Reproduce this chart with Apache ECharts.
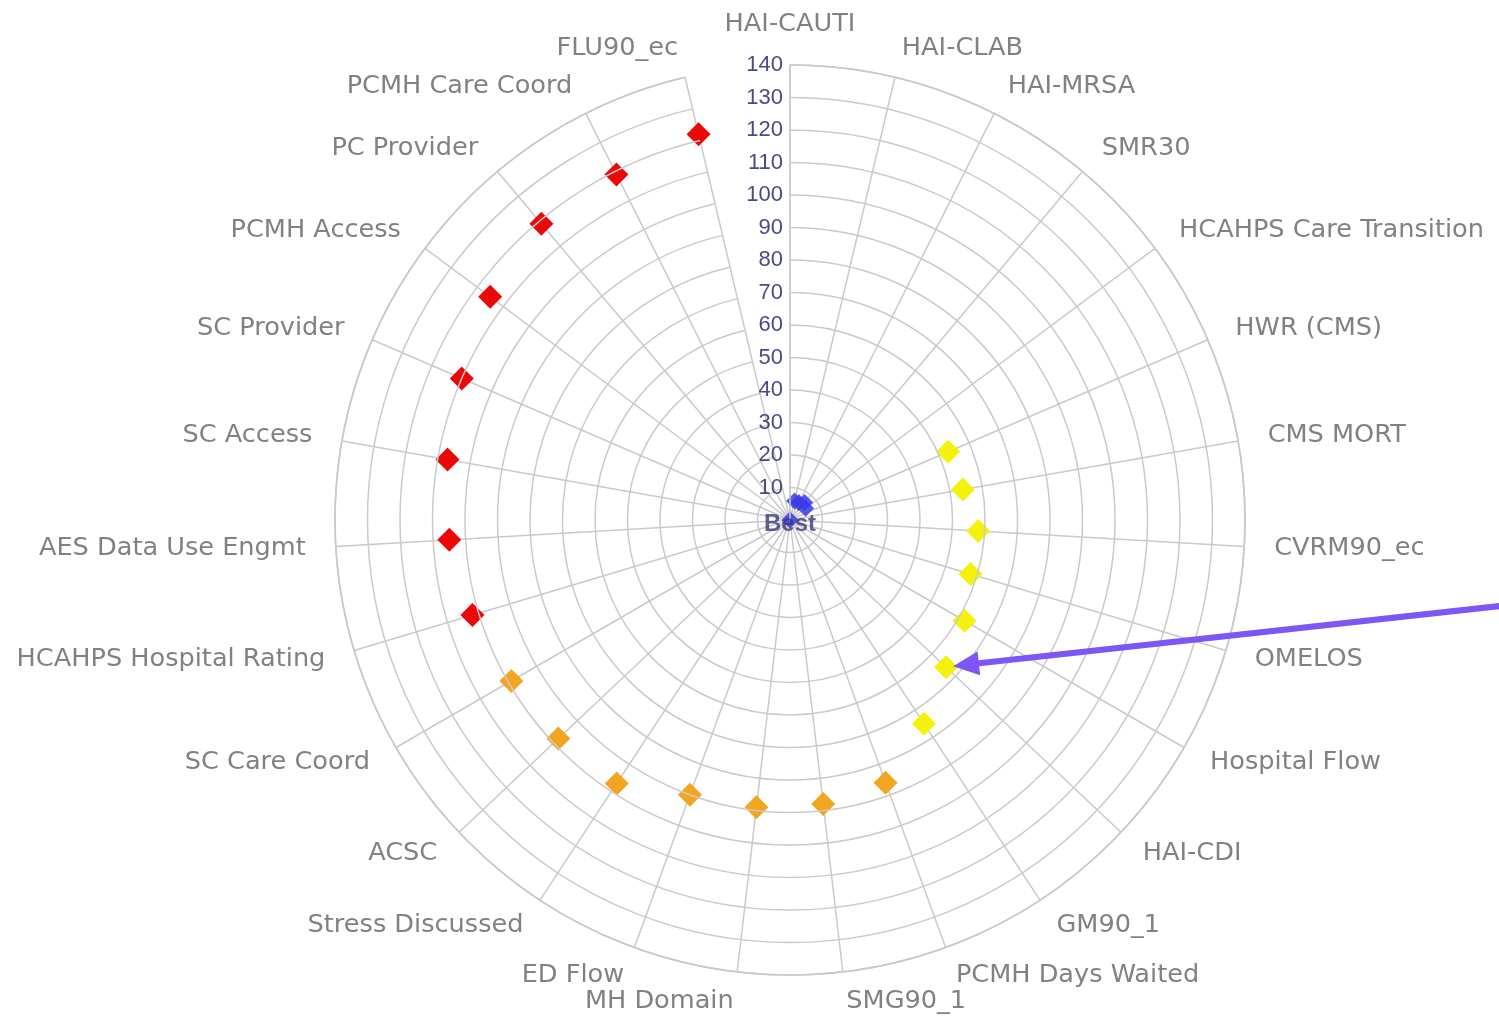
<!DOCTYPE html>
<html><head><meta charset="utf-8">
<script src="https://cdn.jsdelivr.net/npm/echarts@6/dist/echarts.min.js"></script>
<style>html,body{margin:0;padding:0;background:#fff}#c{width:1499px;height:1018px}</style>
</head><body><div id="c"></div>
<script>
// ---- data ----
const categories = [
  'HAI-CAUTI','HAI-CLAB','HAI-MRSA','SMR30','HCAHPS Care Transition','HWR (CMS)','CMS MORT',
  'CVRM90_ec','OMELOS','Hospital Flow','HAI-CDI','GM90_1','PCMH Days Waited','SMG90_1',
  'MH Domain','ED Flow','Stress Discussed','ACSC','SC Care Coord','HCAHPS Hospital Rating',
  'AES Data Use Engmt','SC Access','SC Provider','PCMH Access','PC Provider','PCMH Care Coord','FLU90_ec'
];
const _ = null;
const blueScores   = [0, 6, 6, 7, 6, _, _, _, _, _, _, _, _, _, _, _, _, _, _, _, _, _, _, _, _, _, _];
const yellowScores = [_, _, _, _, _, 53, 54, 58, 58, 62, 66, 75, _, _, _, _, _, _, _, _, _, _, _, _, _, _, _];
const orangeScores = [_, _, _, _, _, _, _, _, _, _, _, _, 86, 88, 89, 90, 97, 98, 99, _, _, _, _, _, _, _, _];
const redScores    = [_, _, _, _, _, _, _, _, _, _, _, _, _, _, _, _, _, _, _, 102, 105, 107, 110, 115, 119, 119, 122];
const radiusMin = 0, radiusMax = 140, radiusStep = 10;
const centerLabel = 'Best';
const annotatedIndex = 10; // arrow points at this category's marker

// ---- chart ----
const chart = echarts.init(document.getElementById('c'), null, {renderer: 'canvas'});
const toData = arr => arr.map((v, i) => v == null ? null : [v, i]).filter(d => d);
const gridColor = '#cacaca';
const labelR = radiusMax * 1.066;

function markerSeries(arr, color, size, opacity) {
  return {
    type: 'scatter', coordinateSystem: 'polar', symbol: 'diamond', symbolSize: size,
    data: toData(arr), clip: false, silent: true,
    itemStyle: {color: color, opacity: opacity == null ? 1 : opacity},
    emphasis: {disabled: true}
  };
}

chart.setOption({
  animation: false,
  backgroundColor: '#ffffff',
  polar: {center: [790, 520], radius: 455},
  angleAxis: {
    type: 'category', data: categories, startAngle: 90, clockwise: true, boundaryGap: false,
    axisLine: {show: true, lineStyle: {color: '#c4c4c4', width: 1.6}},
    axisTick: {show: false},
    axisLabel: {show: false},
    splitLine: {show: true, lineStyle: {color: gridColor, width: 1.5}}
  },
  radiusAxis: {
    min: radiusMin, max: radiusMax, interval: radiusStep,
    axisLine: {show: true, lineStyle: {color: gridColor, width: 1.5}},
    axisTick: {show: false},
    axisLabel: {
      show: true, margin: 7, color: '#4a4a88', fontFamily: 'Liberation Sans', fontSize: 22,
      formatter: v => v === 0 ? '' : String(v)
    },
    splitLine: {show: true, lineStyle: {color: gridColor, width: 1.5}},
    z: 5
  },
  series: [
    markerSeries(blueScores, '#3a3ae8', 17, 0.85),
    markerSeries(yellowScores, '#f4f20c', 24),
    markerSeries(orangeScores, '#f2a520', 24),
    markerSeries(redScores, '#ea0808', 24),
    {
      type: 'scatter', coordinateSystem: 'polar', symbolSize: 1, clip: false, silent: true,
      itemStyle: {color: 'rgba(0,0,0,0)'}, emphasis: {disabled: true},
      data: categories.map((c, i) => ({
        value: [i === 0 ? labelR - 0.6 : labelR, i],
        label: {
          align: i === 0 ? 'center' : (i < categories.length / 2 ? 'left' : 'right'),
          verticalAlign: i === 0 ? 'bottom' : 'middle'
        }
      })),
      label: {
        show: true, position: 'inside', color: '#626262', fontFamily: 'DejaVu Sans', fontSize: 25.6,
        formatter: p => categories[p.dataIndex]
      }
    },
    {
      type: 'scatter', coordinateSystem: 'polar', symbolSize: 1, clip: false, silent: true,
      itemStyle: {color: 'rgba(0,0,0,0)'}, emphasis: {disabled: true},
      data: [[0, 0]], z: 10,
      label: {
        show: true, position: 'inside', offset: [0, 4], formatter: centerLabel,
        color: '#38387a', fontFamily: 'Liberation Sans', fontWeight: 'bold', fontSize: 24
      }
    }
  ]
});

// ---- annotation arrow pointing at the marker ----
const p = chart.convertToPixel({seriesIndex: 1}, [yellowScores[annotatedIndex], annotatedIndex]);
if (p) {
  const tip = [p[0] + 7, p[1] - 1];
  const slope = -0.11;
  const dx = 1, dy = slope, len = Math.sqrt(dx * dx + dy * dy);
  const ux = dx / len, uy = dy / len;
  const headLen = 26, headHalf = 12;
  const base = [tip[0] + ux * headLen, tip[1] + uy * headLen];
  const endX = 1505, endY = tip[1] + (endX - tip[0]) * slope;
  const arrowColor = '#7e55f6';
  chart.setOption({
    graphic: [
      {type: 'line', z: 100, shape: {x1: base[0] - ux * 2, y1: base[1] - uy * 2, x2: endX, y2: endY},
       style: {stroke: arrowColor, lineWidth: 6}},
      {type: 'polygon', z: 100, shape: {points: [
        tip,
        [base[0] - uy * headHalf, base[1] + ux * headHalf],
        [base[0] + uy * headHalf, base[1] - ux * headHalf]
      ]}, style: {fill: arrowColor}}
    ]
  });
}
</script>
</body></html>
